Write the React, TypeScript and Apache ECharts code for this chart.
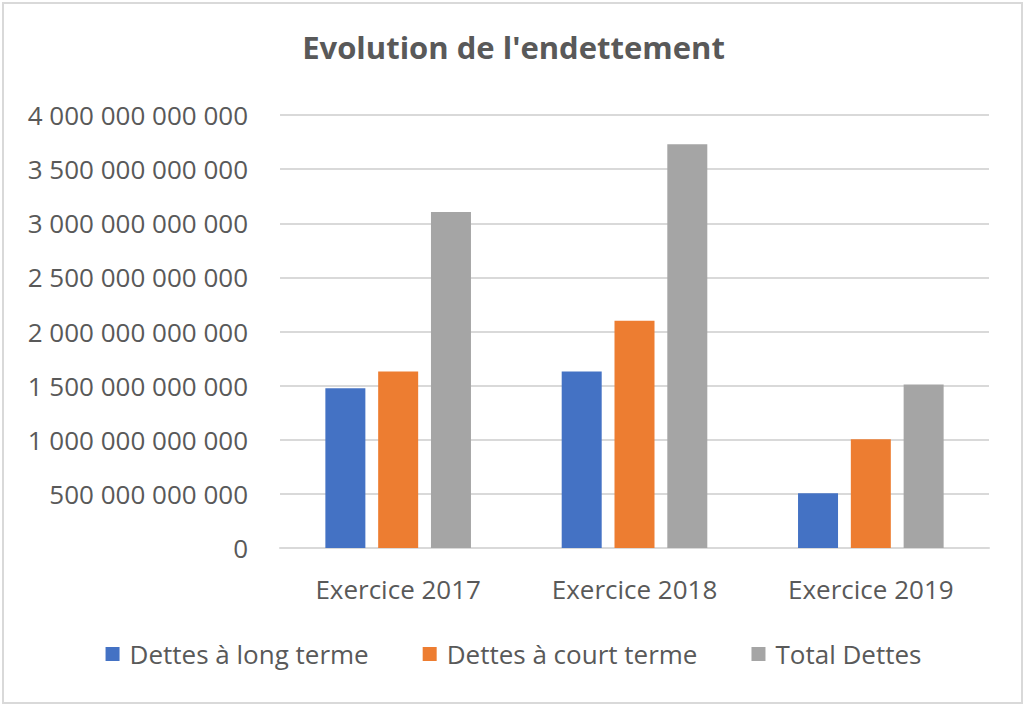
import React, { useEffect, useRef } from "react";
import * as echarts from "echarts";

const categories = ["Exercice 2017", "Exercice 2018", "Exercice 2019"];
const seriesNames = ["Dettes à long terme", "Dettes à court terme", "Total Dettes"];
const longTerme = [1475e9, 1630e9, 505e9];
const courtTerme = [1630e9, 2100e9, 1005e9];
const totalDettes = [3105e9, 3730e9, 1510e9];
const colors = ["#4472C4", "#ED7D31", "#A5A5A5"];

const fmt = (v: number) => {
  const s = Math.round(v).toString();
  return s.replace(/\B(?=(\d{3})+(?!\d))/g, " ");
};

export default function App() {
  const ref = useRef<HTMLDivElement>(null);
  useEffect(() => {
    if (!ref.current) return;
    const chart = echarts.init(ref.current, null, { renderer: "svg" });
    const font = "'Open Sans', sans-serif";
    chart.setOption({
      animation: false,
      backgroundColor: "#ffffff",
      color: colors,
      title: {
        text: "Evolution de l'endettement",
        left: "center",
        top: 26,
        textStyle: { fontFamily: font, fontSize: 31, fontWeight: "bold", color: "#595959" },
      },
      graphic: [
        {
          type: "rect",
          shape: { x: 3, y: 3, width: 1019, height: 700 },
          style: { fill: "none", stroke: "#D9D9D9", lineWidth: 2 },
          silent: true,
        },
      ],
      legend: {
        data: seriesNames,
        left: "center",
        top: 636,
        itemWidth: 14,
        itemHeight: 14,
        itemGap: 54,
        icon: "rect",
        textStyle: { fontFamily: font, fontSize: 26, color: "#595959", padding: [0, 0, 0, 5] },
      },
      grid: { left: 280, right: 38, top: 115, bottom: 159, containLabel: false },
      xAxis: {
        type: "category",
        data: categories,
        axisLine: { lineStyle: { color: "#D9D9D9", width: 2 } },
        axisTick: { show: false },
        axisLabel: { fontFamily: font, fontSize: 26, color: "#595959", margin: 28 },
      },
      yAxis: {
        type: "value",
        min: 0,
        max: 4e12,
        interval: 5e11,
        axisLine: { show: false },
        axisTick: { show: false },
        splitLine: { lineStyle: { color: "#D9D9D9", width: 2 } },
        axisLabel: {
          fontFamily: font,
          fontSize: 26,
          color: "#595959",
          margin: 32,
          formatter: (v: number) => fmt(v),
        },
      },
      series: [
        { name: seriesNames[0], type: "bar", data: longTerme, barWidth: 40, barGap: "32%" },
        { name: seriesNames[1], type: "bar", data: courtTerme, barWidth: 40, barGap: "32%" },
        { name: seriesNames[2], type: "bar", data: totalDettes, barWidth: 40, barGap: "32%" },
      ],
    });
    return () => chart.dispose();
  }, []);
  return (
    <div
      ref={ref}
      style={{ position: "fixed", left: 0, top: 0, width: 1027, height: 707 }}
    />
  );
}
